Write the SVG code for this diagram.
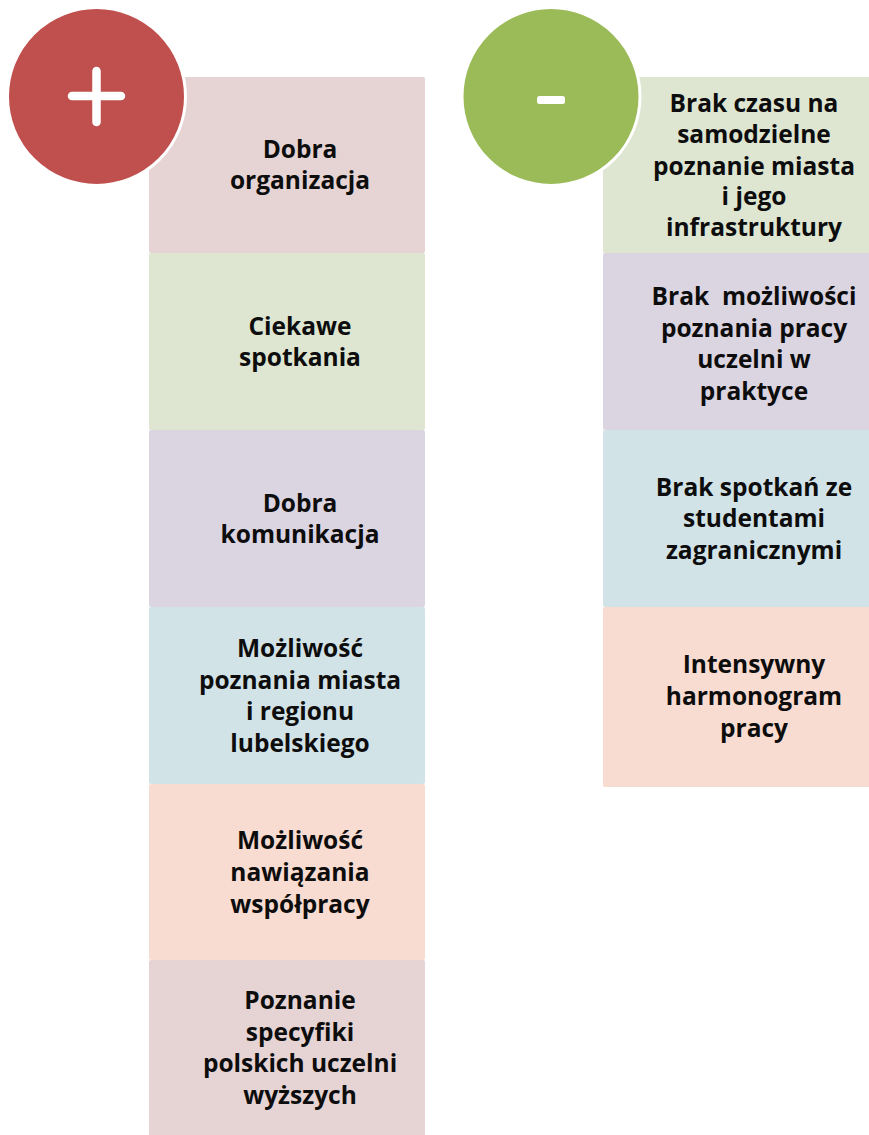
<svg xmlns="http://www.w3.org/2000/svg" width="869" height="1135" viewBox="0 0 869 1135">
<style>
.lbl{font-family:"Open Sans","Noto Sans","Liberation Sans",sans-serif;font-weight:700;font-size:24.5px;fill:#0d0d0d;text-anchor:middle;white-space:pre}
.box{stroke:none}
.circ{stroke:#ffffff;stroke-width:3}
.pink{fill:#E6D4D4}.green{fill:#DEE6D2}.purple{fill:#DBD4E1}.blue{fill:#D2E3E7}.peach{fill:#F9DCD1}
</style>
<rect width="869" height="1135" fill="#ffffff"/>
<g id="connectors"></g>
<g id="left-column">
<g id="l1"><rect class="box pink" x="149" y="77" width="276" height="176" rx="2"/>
<text class="lbl"><tspan x="300" y="158">Dobra</tspan><tspan x="300" y="189">organizacja</tspan></text></g>
<g id="l2"><rect class="box green" x="149" y="253" width="276" height="177" rx="2"/>
<text class="lbl"><tspan x="300" y="335">Ciekawe</tspan><tspan x="300" y="366">spotkania</tspan></text></g>
<g id="l3"><rect class="box purple" x="149" y="430" width="276" height="177" rx="2"/>
<text class="lbl"><tspan x="300" y="512">Dobra</tspan><tspan x="300" y="543">komunikacja</tspan></text></g>
<g id="l4"><rect class="box blue" x="149" y="607" width="276" height="177" rx="2"/>
<text class="lbl"><tspan x="300" y="657">Możliwość</tspan><tspan x="300" y="689">poznania miasta</tspan><tspan x="300" y="720">i regionu</tspan><tspan x="300" y="752">lubelskiego</tspan></text></g>
<g id="l5"><rect class="box peach" x="149" y="784" width="276" height="176" rx="2"/>
<text class="lbl"><tspan x="300" y="849">Możliwość</tspan><tspan x="300" y="881">nawiązania</tspan><tspan x="300" y="913">współpracy</tspan></text></g>
<g id="l6"><rect class="box pink" x="149" y="960" width="276" height="180" rx="2"/>
<text class="lbl"><tspan x="300" y="1009">Poznanie</tspan><tspan x="300" y="1041">specyfiki</tspan><tspan x="300" y="1072">polskich uczelni</tspan><tspan x="300" y="1104">wyższych</tspan></text></g>
</g>
<g id="right-column">
<g id="r1"><rect class="box green" x="603" y="77" width="276" height="176" rx="2"/>
<text class="lbl"><tspan x="754" y="112">Brak czasu na</tspan><tspan x="754" y="143">samodzielne</tspan><tspan x="754" y="175">poznanie miasta</tspan><tspan x="754" y="205">i jego</tspan><tspan x="754" y="236">infrastruktury</tspan></text></g>
<g id="r2"><rect class="box purple" x="603" y="253" width="276" height="177" rx="2"/>
<text class="lbl"><tspan x="754" y="305">Brak  możliwości</tspan><tspan x="754" y="337">poznania pracy</tspan><tspan x="754" y="368">uczelni w</tspan><tspan x="754" y="400">praktyce</tspan></text></g>
<g id="r3"><rect class="box blue" x="603" y="430" width="276" height="177" rx="2"/>
<text class="lbl"><tspan x="754" y="496">Brak spotkań ze</tspan><tspan x="754" y="527">studentami</tspan><tspan x="754" y="559">zagranicznymi</tspan></text></g>
<g id="r4"><rect class="box peach" x="603" y="607" width="276" height="180" rx="2"/>
<text class="lbl"><tspan x="754" y="673">Intensywny</tspan><tspan x="754" y="705">harmonogram</tspan><tspan x="754" y="737">pracy</tspan></text></g>
</g>
<g id="plus-circle">
<circle class="circ" cx="96.5" cy="96.5" r="89" fill="#C0504D"/>
<path d="M72 96H121M96.5 71V122" stroke="#ffffff" stroke-width="8.5" stroke-linecap="round" fill="none"/>
</g>
<g id="minus-circle">
<circle class="circ" cx="551" cy="96.5" r="89" fill="#9BBB59"/>
<rect x="537" y="96" width="28" height="8" rx="2.5" fill="#ffffff"/>
</g>
</svg>
